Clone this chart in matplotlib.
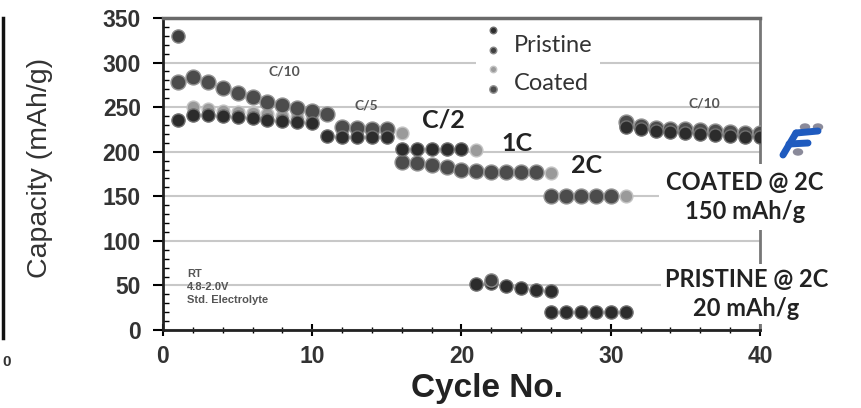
import matplotlib
matplotlib.use("Agg")
import matplotlib.pyplot as plt
from matplotlib.legend_handler import HandlerPathCollection, HandlerTuple
from matplotlib.lines import Line2D
from matplotlib.patches import Ellipse

# rate-capability data (cycle no., capacity in mAh/g)
pristine_cyc = [1, 2, 3, 4, 5, 6, 7, 8, 9, 10,
                11, 12, 13, 14, 15,
                16, 17, 18, 19, 20,
                21, 22, 23, 24, 25, 26,
                26, 27, 28, 29, 30, 31,
                31, 32, 33, 34, 35, 36, 37, 38, 39, 40]
pristine_cap = [236, 241, 241, 240, 239, 238, 236, 235, 233, 232,
                218, 217, 217, 217, 216,
                203, 203, 203, 203, 203,
                52, 53, 49, 47, 45, 44,
                20, 20, 20, 20, 20, 20,
                228, 225, 223, 222, 221, 220, 219, 218, 217, 216]

pristine2_cyc = [1, 22]
pristine2_cap = [330, 56]

coated_cyc = [1, 2, 3, 4, 5, 6, 7, 8, 9, 10, 11,
              12, 13, 14, 15,
              16, 17, 18, 19, 20, 21,
              22, 23, 24, 25,
              26, 27, 28, 29, 30,
              31, 32, 33, 34, 35, 36, 37, 38, 39, 40]
coated_cap = [278, 284, 278, 272, 266, 261, 256, 252, 249, 246, 242,
              228, 227, 226, 225,
              188, 187, 185, 183, 180, 178,
              177, 177, 177, 177,
              150, 150, 150, 150, 150,
              233, 229, 227, 226, 225, 224, 223, 222, 221, 221]

coated2_cyc = [2, 3, 4, 5, 6, 7, 8, 9, 10, 16, 21, 26, 31]
coated2_cap = [250, 248, 246, 245, 243, 242, 240, 239, 237, 221, 202, 176, 150]

rate_labels = ["C/10", "C/5", "C/2", "1C", "2C", "C/10"]
rate_x = [8.1, 13.6, 18.8, 23.7, 28.4, 36.3]
rate_y = [290, 252, 236, 209, 185, 254]
rate_size = [10, 10, 18, 18, 18, 10]

sans = ["Liberation Sans", "DejaVu Sans"]
cal = ["Lato", "DejaVu Sans"]

fig = plt.figure(figsize=(8.61, 4.08), dpi=100)
ax = fig.add_axes([0.1893, 0.1912, 0.8827 - 0.1893, 0.9559 - 0.1912])

ax.set_xlim(0, 40)
ax.set_ylim(0, 350)
ax.set_xticks([0, 10, 20, 30, 40])
ax.set_xticks(range(0, 41, 2), minor=True)
ax.set_yticks(range(0, 351, 50))
ax.set_yticks(range(0, 351, 10), minor=True)
ax.yaxis.grid(True, color="#c8c8c8", lw=1.5)
ax.set_axisbelow(True)

ax.tick_params(axis="x", which="major", direction="inout", length=9, width=1.5, pad=6)
ax.tick_params(axis="x", which="minor", direction="inout", length=5, width=1)
ax.tick_params(axis="y", which="major", direction="out", length=7, width=1.5, pad=9)
ax.tick_params(axis="y", which="minor", direction="in", length=4, width=1)
for lab in ax.get_xticklabels() + ax.get_yticklabels():
    lab.set_fontfamily(sans)
    lab.set_fontsize(16.5)
    lab.set_fontweight("bold")
    lab.set_color("#333333")

ax.spines["left"].set_color("#222222")
ax.spines["left"].set_linewidth(2)
ax.spines["bottom"].set_color("#222222")
ax.spines["bottom"].set_linewidth(2)
ax.spines["top"].set_color("#6a6a6a")
ax.spines["top"].set_linewidth(2.5)
ax.spines["right"].set_color("#777777")
ax.spines["right"].set_linewidth(2)

ax.set_ylabel("Capacity (mAh/g)", fontsize=20.5, family=sans, color="#333333")
ax.yaxis.set_label_coords(-0.185, 0.52)
ax.set_xlabel("Cycle No.", fontsize=24, family=sans, fontweight="bold", color="#222222")
ax.xaxis.set_label_coords(0.543, -0.138)

sc_c2 = ax.scatter(coated2_cyc, coated2_cap, s=85, c="#9a9a9a", edgecolors="#c4c4c4", lw=1, zorder=3)
sc_c = ax.scatter(coated_cyc, coated_cap, s=115, c="#4c4c4c", edgecolors="#939393", lw=1, zorder=4)
sc_p = ax.scatter(pristine_cyc, pristine_cap, s=90, c="#2c2c2c", edgecolors="#707070", lw=1, zorder=5)
sc_p2 = ax.scatter(pristine2_cyc, pristine2_cap, s=90, c="#404040", edgecolors="#8a8a8a", lw=1, zorder=5)

hmap = {
    sc_p: HandlerPathCollection(numpoints=1, yoffsets=[1.05]),
    sc_p2: HandlerPathCollection(numpoints=1, yoffsets=[0.1]),
    sc_c2: HandlerPathCollection(numpoints=1, yoffsets=[1.0]),
    sc_c: HandlerPathCollection(numpoints=1, yoffsets=[0.07]),
    tuple: HandlerTuple(ndivide=1, pad=0),
}
leg = ax.legend([(sc_p, sc_p2), (sc_c2, sc_c)], ["Pristine", "Coated"],
                handler_map=hmap, loc="upper left", bbox_to_anchor=(0.505, 1.012),
                prop={"family": cal, "size": 17}, markerscale=0.5,
                handlelength=0.8, handleheight=1.0, handletextpad=0.5,
                labelspacing=0.66, frameon=True, framealpha=1,
                facecolor="white", edgecolor="none", borderpad=0.3)
for t in leg.get_texts():
    t.set_color("#333333")

for lab, x, y, fs in zip(rate_labels, rate_x, rate_y, rate_size):
    ax.text(x, y, lab, ha="center", va="center", fontsize=fs, family=cal,
            fontweight="bold", color="#222222" if fs > 12 else "#555555", zorder=6)

ax.text(1.6, 68, "RT\n4.8-2.0V\nStd. Electrolyte", ha="left", va="top",
        fontsize=8, family=sans, fontweight="bold", color="#555555", linespacing=1.35)

ax.text(39.0, 149, "COATED @ 2C\n150 mAh/g", ha="center", va="center", fontsize=17,
        family=cal, fontweight="bold", color="#222222", linespacing=1.3, clip_on=False,
        zorder=7, bbox=dict(fc="white", ec="none", pad=5))
ax.text(39.1, 40, "PRISTINE @ 2C\n20 mAh/g", ha="center", va="center", fontsize=17,
        family=cal, fontweight="bold", color="#222222", linespacing=1.3, clip_on=False,
        zorder=7, bbox=dict(fc="white", ec="none", pad=3))

# small logo beside the plot
W, H = 861, 408
def px(x, y):
    return x / W, 1 - y / H
for (x0, y0), (x1, y1) in [((783, 155), (796, 133)), ((796, 133), (818, 131)), ((789, 144), (808, 143))]:
    a, b = px(x0, y0)
    c, d = px(x1, y1)
    fig.add_artist(Line2D([a, c], [b, d], color="#1f5bbf", lw=5, solid_capstyle="round"))
for x, y in [(805, 127), (818, 127), (798, 152)]:
    a, b = px(x, y)
    fig.add_artist(Ellipse((a, b), 9 / W, 6 / H, color="#8a8a9a"))

# cropped neighbour panel on the left edge
a, b = px(3, 18)
c, d = px(3, 338)
fig.add_artist(Line2D([a, c], [b, d], color="#111111", lw=2.5))
fig.text(7 / W, 1 - 362 / H, "0", ha="center", va="center", fontsize=11,
         family=sans, fontweight="bold", color="#333333")

fig.savefig("out.png", dpi=100)
